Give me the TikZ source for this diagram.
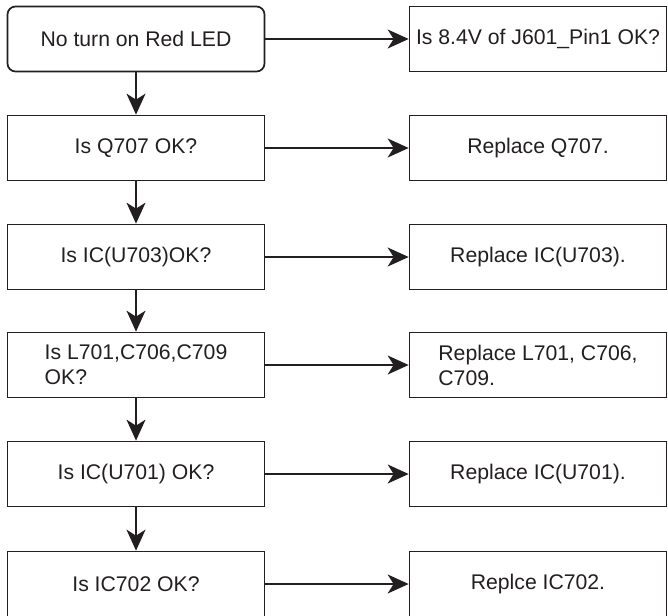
\documentclass[tikz,border=0pt]{standalone}
\usepackage{fontspec}
\setmainfont{Liberation Sans}
\usetikzlibrary{arrows.meta}
\definecolor{ChartInk}{HTML}{231F20}
\definecolor{ChartPaper}{HTML}{FFFFFF}

\begin{document}
\begin{tikzpicture}[x=1pt,y=-1pt,
    checkbox/.style={draw=ChartInk,line width=1.7pt,fill=ChartPaper,
      minimum width=257pt,minimum height=65pt,inner sep=0pt,
      text=ChartInk,align=left,font=\fontsize{21.2}{25}\selectfont},
    flow/.style={draw=ChartInk,line width=1.7pt,
      -{Stealth[length=21pt,width=19pt,inset=6pt]}}]
  \useasboundingbox (0,0) rectangle (668,615);
  % checks on the left
  \node[checkbox,rounded corners=8pt] (start) at (136,39) {No turn on Red LED};
  \node[checkbox] (q707) at (136,148) {Is Q707 OK?};
  \node[checkbox] (u703) at (136,257) {Is IC(U703)OK?};
  \node[checkbox] (lc) at (136,365) {Is L701,C706,C709\\OK?};
  \node[checkbox] (u701) at (136,474) {Is IC(U701) OK?};
  \node[checkbox] (ic702) at (136,584) {Is IC702 OK?};
  % actions on the right
  \node[checkbox] (pin) at (538,39) {Is 8.4V of J601\_Pin1 OK?};
  \node[checkbox] (repq707) at (538,148) {Replace Q707.};
  \node[checkbox] (repu703) at (538,257) {Replace IC(U703).};
  \node[checkbox] (replc) at (538,365) {Replace L701, C706,\\C709.};
  \node[checkbox] (repu701) at (538,474) {Replace IC(U701).};
  \node[checkbox] (rep702) at (538,584) {Replce IC702.};
  % down the chain
  \draw[flow] (start) -- (q707);
  \draw[flow] (q707) -- (u703);
  \draw[flow] (u703) -- (lc);
  \draw[flow] (lc) -- (u701);
  \draw[flow] (u701) -- (ic702);
  % across
  \draw[flow] (start) -- (pin);
  \draw[flow] (q707) -- (repq707);
  \draw[flow] (u703) -- (repu703);
  \draw[flow] (lc) -- (replc);
  \draw[flow] (u701) -- (repu701);
  \draw[flow] (ic702) -- (rep702);
\end{tikzpicture}
\end{document}
